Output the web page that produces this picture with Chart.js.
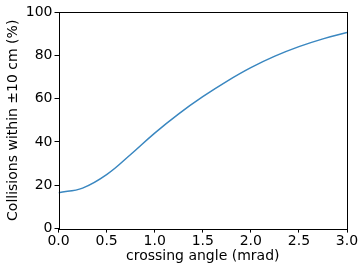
<!DOCTYPE html>
<html>
<head>
<meta charset="utf-8">
<script src="https://cdn.jsdelivr.net/npm/chart.js@4"></script>
<style>
  html, body { margin: 0; padding: 0; background: #fff; }
  #wrap { width: 360px; height: 264px; }
</style>
</head>
<body>
<div id="wrap"><canvas id="grafico" width="360" height="264"></canvas></div>
<script>
// datos
const angulo = [0, 0.25, 0.5, 0.75, 1.0, 1.25, 1.5, 1.75, 2.0, 2.25, 2.5, 2.75, 3.0];
const colisiones = [16.6, 18.7, 24.9, 34.2, 44.1, 53.0, 60.9, 68.0, 74.3, 79.6, 84.0, 87.6, 90.5];
const ticksX = [0, 0.5, 1.0, 1.5, 2.0, 2.5, 3.0];
const ticksY = [0, 20, 40, 60, 80, 100];

const fuente = { family: 'DejaVu Sans', size: 14 };
const fuenteX = { family: 'DejaVu Sans', size: 14, lineHeight: 1.05 };

// marco negro alrededor del area de la grafica
const marco = {
    id: 'marco',
    afterDraw(chart) {
        const a = chart.chartArea;
        const c = chart.ctx;
        c.save();
        c.strokeStyle = '#000';
        c.lineWidth = 1;
        c.strokeRect(Math.round(a.left) + 0.5, Math.round(a.top) + 0.5,
            Math.round(a.right - a.left), Math.round(a.bottom - a.top));
        c.restore();
    }
};

const ctx = document.getElementById('grafico').getContext('2d');
new Chart(ctx, {
    type: 'line',
    data: {
        datasets: [{
            data: angulo.map((x, i) => ({ x: x, y: colisiones[i] })),
            borderColor: '#3a87c0',
            borderWidth: 1.5,
            pointRadius: 0,
            tension: 0.4,
            fill: false
        }]
    },
    options: {
        responsive: false,
        animation: false,
        layout: { padding: { top: 12, right: 13, left: 5, bottom: 0 } },
        plugins: { legend: { display: false }, tooltip: { enabled: false } },
        scales: {
            x: {
                type: 'linear',
                min: 0, max: 3,
                afterBuildTicks: s => { s.ticks = ticksX.map(v => ({ value: v })); },
                ticks: { color: '#000', font: fuenteX, padding: 1, maxRotation: 0,
                         callback: v => v.toFixed(1) },
                grid: { drawOnChartArea: false, tickLength: 4, color: '#000' },
                border: { display: false },
                title: { display: true, text: 'crossing angle (mrad)', color: '#000', font: fuenteX,
                         padding: { top: 0, bottom: 0 } }
            },
            y: {
                min: 0, max: 100,
                afterBuildTicks: s => { s.ticks = ticksY.map(v => ({ value: v })); },
                ticks: { color: '#000', font: fuente, padding: 2 },
                grid: { drawOnChartArea: false, tickLength: 4, color: '#000' },
                border: { display: false },
                title: { display: true, text: 'Collisions within ±10 cm (%)', color: '#000', font: fuente,
                         padding: { top: 0, bottom: 2 } }
            }
        }
    },
    plugins: [marco]
});
</script>
</body>
</html>
